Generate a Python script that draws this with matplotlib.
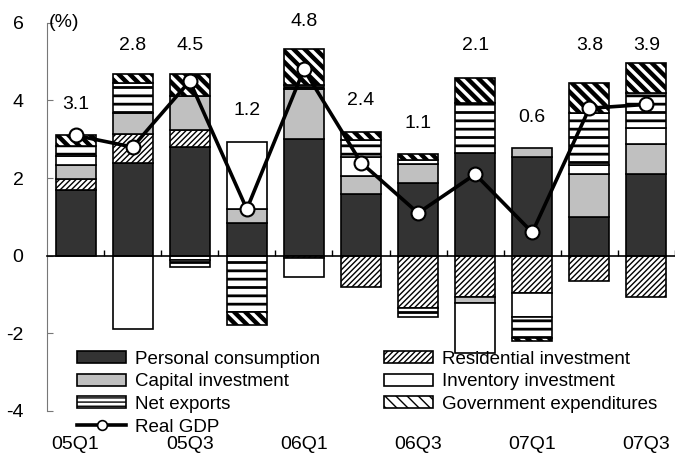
import numpy as np
import matplotlib.pyplot as plt
from matplotlib.patches import Patch
from matplotlib.lines import Line2D

plt.rcParams['font.family'] = ['Liberation Sans', 'DejaVu Sans']
plt.rcParams['hatch.color'] = 'black'

QUARTERS = ["05Q1", "05Q2", "05Q3", "05Q4", "06Q1", "06Q2",
            "06Q3", "06Q4", "07Q1", "07Q2", "07Q3"]
TICK_LABELS = QUARTERS[::2]

# contributions to real GDP growth (percentage points)
consumption = [1.69, 2.39, 2.80, 0.84, 3.01, 1.59, 1.87, 2.65, 2.54, 0.99, 2.11]
residential = [0.29, 0.75, 0.44, 0.00, -0.05, -0.81, -1.35, -1.06, -0.95, -0.65, -1.06]
capital     = [0.37, 0.54, 0.88, 0.36, 1.29, 0.46, 0.49, -0.15, 0.23, 1.11, 0.77]
inventory   = [0.21, -1.89, -0.12, 1.73, -0.50, 0.49, 0.10, -1.29, -0.64, 0.23, 0.41]
net_exports = [0.28, 0.77, -0.18, -1.44, 0.10, 0.44, -0.23, 1.29, -0.52, 1.34, 0.90]
government  = [0.26, 0.23, 0.57, -0.34, 0.93, 0.21, 0.15, 0.64, -0.10, 0.77, 0.77]
real_gdp    = [3.1, 2.8, 4.5, 1.2, 4.8, 2.4, 1.1, 2.1, 0.6, 3.8, 3.9]

# label, values, face colour, hatch (bars), hatch (legend key), hatch line width
COMPONENTS = [
    ("Personal consumption",    consumption, "#333333", None,     None,     None),
    ("Residential investment",  residential, "white",   "//////", "//////", 1.0),
    ("Capital investment",      capital,     "#c0c0c0", None,     None,     None),
    ("Inventory investment",    inventory,   "white",   None,     None,     None),
    ("Net exports",             net_exports, "white",   "--",     "----",   2.0),
    ("Government expenditures", government,  "white",   "\\\\\\", "\\\\\\", 3.2),
]

FS = 14
LEG_FS = 13.5
x = np.arange(len(QUARTERS))
W = 0.70

fig = plt.figure(figsize=(6.75, 4.54), dpi=100)
ax = fig.add_axes([47 / 675, 1 - 410.9 / 454, 628 / 675, 388 / 454])

pos_base = np.zeros(len(x))
neg_base = np.zeros(len(x))
handles = {}
for label, vals, fc, hatch, key_hatch, hlw in COMPONENTS:
    vals = np.asarray(vals, dtype=float)
    bottom = np.where(vals >= 0, pos_base, neg_base)
    keep = vals != 0
    bars = ax.bar(x[keep], vals[keep], W, bottom=bottom[keep], color=fc,
                  edgecolor="black", linewidth=1.2, hatch=hatch, zorder=2)
    h = Patch(facecolor=fc, edgecolor="black", linewidth=1.2, hatch=key_hatch)
    if hlw is not None:
        for p in list(bars) + [h]:
            if hasattr(p, "set_hatch_linewidth"):
                p.set_hatch_linewidth(hlw)
    handles[label] = h
    pos_base += np.where(vals > 0, vals, 0)
    neg_base += np.where(vals < 0, vals, 0)

ax.plot(x, real_gdp, color="black", lw=2.6, marker="o", ms=10,
        mfc="white", mec="black", mew=1.5, zorder=4)

# growth labels: just above short bars, on a common row otherwise
for xi, top, v in zip(x, pos_base, real_gdp):
    if top < 3.5:
        ty = top + 0.8
    elif top < 5.1:
        ty = 5.43
    else:
        ty = top + 0.7
    ax.text(xi, ty, f"{v:.1f}", ha="center", va="center", fontsize=FS)

ax.set_xlim(-0.5, 10.5)
ax.set_ylim(-4, 6)
ax.set_yticks([-4, -2, 0, 2, 4, 6], ["-4", "-2", "0", "2", "4", "6"])
ax.tick_params(axis="y", direction="in", length=4, pad=17, labelsize=FS,
               color="#777777")
for s in ("top", "right"):
    ax.spines[s].set_visible(False)
ax.spines["left"].set_color("#777777")

# zero line with small marks between the quarters
ax.spines["bottom"].set_position(("data", 0))
ax.spines["bottom"].set_linewidth(1.2)
ax.spines["bottom"].set_zorder(3)
ax.set_xticks(np.arange(0.5, 11, 1.0))
ax.tick_params(axis="x", direction="in", length=4, labelbottom=False,
               color="black", width=1)

# quarter labels sit underneath the plot area
sec = ax.secondary_xaxis("bottom")
sec.set_xticks(x[::2], TICK_LABELS)
sec.tick_params(length=0, pad=18, labelsize=FS)
sec.spines["bottom"].set_visible(False)

ax.text(0.003, 1.0, "(%)", transform=ax.transAxes, ha="left", va="center",
        fontsize=FS)

gdp_handle = Line2D([], [], color="black", lw=2.6, marker="o", ms=7,
                    mfc="white", mec="black", mew=1.2)
order = ["Personal consumption", "Capital investment", "Net exports"]
order2 = ["Residential investment", "Inventory investment", "Government expenditures"]
leg = ax.legend([handles[k] for k in order] + [gdp_handle] + [handles[k] for k in order2],
                order + ["Real GDP"] + order2,
                loc="upper left", bbox_to_anchor=(0.048, 0.155), ncol=2,
                frameon=False, fontsize=LEG_FS, handlelength=2.6,
                handleheight=0.6, handletextpad=0.5, labelspacing=0.3,
                columnspacing=3.4, borderaxespad=0, borderpad=0)

fig.savefig("out.png", dpi=100)
